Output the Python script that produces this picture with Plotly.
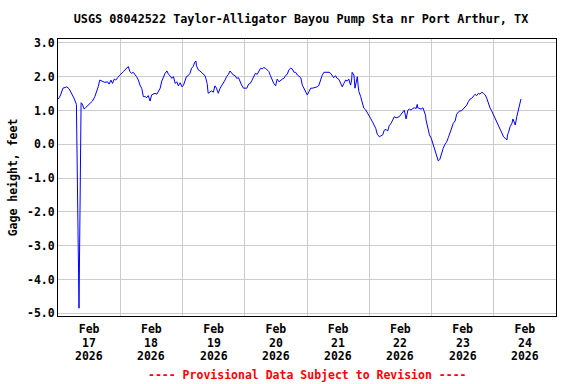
import datetime as dt
import plotly.graph_objects as go

# Hours after 2026-02-17 00:00 and gage height (ft)
hours = [0.15, 1.0, 1.9, 3.4, 4.3, 5.3, 6.2, 7.1, 7.4, 7.8, 8.1, 8.5, 8.9, 9.4, 10.1, 10.7, 11.6, 12.4, 13.3,
         14.2, 14.9, 15.5, 16.1, 17.2, 18.1, 19.1, 19.7, 20.4, 21.0, 21.7, 22.3, 23.0, 23.6, 25.2, 25.8, 26.5,
         27.1, 27.7, 28.4, 29.0, 29.7, 30.3, 31.0, 31.6, 32.3, 32.9, 33.6, 34.2, 34.8, 35.5, 36.1, 36.8, 37.4,
         38.1, 38.7, 39.4, 40.0, 40.6, 41.3, 42.0, 42.6, 43.2, 43.9, 44.5, 45.2, 45.8, 46.4, 47.1, 47.8, 48.4,
         49.5, 50.2, 50.9, 51.5, 52.1, 52.8, 53.2, 53.4, 54.1, 54.7, 55.3, 56.0, 56.7, 57.0, 57.5, 57.9, 58.6,
         59.2, 59.9, 60.5, 61.1, 61.8, 62.5, 63.1, 63.7, 64.4, 65.0, 65.7, 66.3, 67.0, 67.6, 68.3, 68.9, 69.6,
         70.2, 70.8, 71.5, 72.2, 72.8, 73.5, 74.1, 74.7, 75.5, 76.1, 76.8, 77.4, 78.1, 78.7, 79.3, 80.0, 80.7,
         81.3, 81.9, 82.6, 83.2, 83.9, 84.5, 85.2, 85.8, 86.5, 87.1, 87.7, 88.4, 89.0, 89.7, 90.3, 91.0, 91.6,
         92.3, 92.9, 93.6, 94.2, 94.8, 95.5, 96.1, 96.8, 97.4, 98.1, 98.7, 99.4, 100.0, 100.6, 101.2, 101.8,
         102.5, 103.2, 104.0, 104.5, 105.1, 105.7, 106.3, 107.0, 107.6, 108.3, 108.9, 109.6, 110.2, 110.9,
         111.5, 112.1, 112.8, 113.2, 113.4, 114.1, 114.5, 115.0, 115.4, 115.7, 116.0, 116.7, 117.3, 117.9,
         118.6, 119.2, 119.9, 120.5, 121.2, 121.8, 122.5, 123.1, 123.9, 124.5, 125.2, 125.8, 126.5, 127.1,
         127.7, 128.4, 129.1, 129.7, 130.3, 131.0, 131.6, 132.3, 132.9, 133.5, 134.2, 134.6, 134.9, 135.5,
         136.1, 136.8, 137.4, 138.1, 138.5, 138.7, 139.4, 140.0, 140.7, 141.3, 141.7, 141.9, 142.6, 143.2,
         143.9, 144.5, 145.2, 145.8, 146.6, 147.2, 147.5, 147.9, 148.5, 149.2, 149.8, 150.5, 151.1, 151.7,
         152.4, 153.1, 153.7, 154.3, 155.0, 155.6, 156.3, 156.9, 157.6, 158.2, 158.9, 159.5, 160.2, 160.8,
         161.4, 162.1, 162.7, 163.4, 164.0, 164.7, 165.3, 166.0, 166.6, 167.2, 167.9, 168.5, 169.2, 169.8,
         170.5, 171.1, 171.8, 172.4, 173.1, 173.3, 173.7, 174.3, 175.0, 175.4, 175.9, 176.3, 176.9, 177.6,
         178.0, 178.5]
gage_ft = [1.34, 1.46, 1.66, 1.70, 1.64, 1.51, 1.36, 1.18, -0.45, -3.4, -4.85, -1.8, 1.23, 1.19, 1.04, 1.09, 1.16,
           1.21, 1.28, 1.41, 1.56, 1.70, 1.90, 1.87, 1.83, 1.85, 1.78, 1.90, 1.80, 1.93, 1.90, 1.97, 2.03, 2.15,
           2.20, 2.27, 2.30, 2.15, 2.10, 2.13, 2.07, 2.00, 1.90, 1.75, 1.65, 1.41, 1.41, 1.38, 1.44, 1.28, 1.46,
           1.48, 1.51, 1.48, 1.56, 1.66, 1.87, 2.00, 2.10, 2.17, 2.07, 2.03, 1.95, 2.00, 1.80, 1.85, 1.73, 1.82,
           1.70, 1.75, 2.00, 2.03, 2.10, 2.25, 2.30, 2.44, 2.46, 2.32, 2.20, 2.17, 2.13, 2.07, 2.03, 1.95, 1.80,
           1.51, 1.54, 1.58, 1.54, 1.73, 1.66, 1.51, 1.66, 1.73, 1.80, 1.90, 2.00, 2.07, 2.17, 2.10, 2.05, 2.03,
           1.95, 1.97, 1.85, 1.75, 1.66, 1.66, 1.66, 1.78, 1.80, 1.88, 2.03, 2.10, 2.07, 2.17, 2.25, 2.23, 2.27,
           2.25, 2.20, 2.15, 2.03, 1.90, 1.80, 1.73, 1.93, 1.85, 1.90, 1.93, 1.95, 2.03, 2.07, 2.20, 2.25, 2.23,
           2.13, 2.13, 2.05, 2.00, 1.97, 1.75, 1.66, 1.51, 1.46, 1.56, 1.66, 1.66, 1.68, 1.68, 1.70, 1.75, 1.90,
           2.03, 2.13, 2.13, 2.13, 2.13, 2.10, 2.03, 1.97, 2.03, 1.95, 1.92, 1.80, 1.70, 1.80, 1.90, 1.87, 1.93,
           1.75, 1.90, 2.13, 2.05, 1.66, 1.85, 2.00, 1.75, 1.56, 1.41, 1.26, 1.07, 1.02, 0.95, 0.87, 0.77, 0.67,
           0.57, 0.47, 0.30, 0.22, 0.25, 0.28, 0.42, 0.44, 0.39, 0.55, 0.62, 0.72, 0.82, 0.78, 0.80, 0.82, 0.89,
           0.96, 1.01, 0.75, 0.92, 1.01, 1.04, 1.01, 1.06, 1.08, 1.06, 1.18, 1.08, 1.06, 1.04, 1.08, 0.96, 0.86,
           0.72, 0.52, 0.28, 0.18, 0.03, -0.17, -0.32, -0.49, -0.45, -0.37, -0.30, -0.12, 0.00, 0.06, 0.20, 0.33,
           0.47, 0.62, 0.69, 0.89, 0.95, 0.99, 0.99, 1.04, 1.08, 1.16, 1.26, 1.34, 1.36, 1.44, 1.48, 1.44, 1.51,
           1.48, 1.54, 1.51, 1.46, 1.36, 1.16, 1.07, 0.99, 0.87, 0.77, 0.69, 0.57, 0.47, 0.33, 0.22, 0.18, 0.13,
           0.28, 0.35, 0.52, 0.62, 0.75, 0.67, 0.57, 0.82, 1.07, 1.26, 1.34]

month_label = "Feb"
day_labels = ["17", "18", "19", "20", "21", "22", "23", "24"]
year_label = "2026"
y_ticks = [3.0, 2.0, 1.0, 0.0, -1.0, -2.0, -3.0, -4.0, -5.0]
y_ticktext = ["3.0", "2.0", "1.0", "0.0", "-1.0", "-2.0", "-3.0", "-4.0", "-5.0"]

start = dt.datetime(2026, 2, 17)
times = [start + dt.timedelta(hours=h) for h in hours]
tick_noons = [dt.datetime(2026, 2, int(d), 12) for d in day_labels]

FONT = "DejaVu Sans Mono"
FS = 11.5
PLOT_H = 384 - 39 - 68

fig = go.Figure()
fig.add_trace(go.Scatter(x=times, y=gage_ft, mode="lines",
                         line=dict(color="#0000ff", width=1), showlegend=False,
                         hoverinfo="skip"))

annotations = []
for xv, d in zip(tick_noons, day_labels):
    for row, txt in ((343, d), (356, year_label)):
        annotations.append(dict(text="<b>%s</b>" % txt, xref="x", yref="paper", x=xv,
                                y=(316 - row) / PLOT_H, xanchor="center", yanchor="middle",
                                showarrow=False, font=dict(family=FONT, size=FS, color="black")))
annotations.append(dict(text="<b>---- Provisional Data Subject to Revision ----</b>",
                        xref="paper", yref="paper", x=0.5, y=(316 - 375) / PLOT_H,
                        xanchor="center", yanchor="middle", showarrow=False,
                        font=dict(family=FONT, size=FS, color="#ff0000")))

fig.update_layout(
    width=576, height=384,
    margin=dict(l=58, r=20, t=39, b=68, autoexpand=False),
    paper_bgcolor="white", plot_bgcolor="white",
    font=dict(family=FONT, size=12, color="black"),
    title=dict(text="<b>USGS 08042522 Taylor-Alligator Bayou Pump Sta nr Port Arthur, TX</b>",
               xref="container", x=301 / 576, xanchor="center", yref="container",
               y=1 - 19 / 384, yanchor="middle", automargin=False,
               font=dict(family=FONT, size=11.8, color="black")),
    xaxis=dict(
        automargin=False,
        range=[start, start + dt.timedelta(days=8)],
        tickmode="array", tickvals=tick_noons, ticktext=["<b>%s</b>" % month_label] * len(day_labels),
        showgrid=False, ticks="", zeroline=False, ticklabelstandoff=2,
        showline=True, linecolor="black", linewidth=1, mirror=True,
        tickfont=dict(family=FONT, size=FS, color="black"),
        minor=dict(tickmode="linear", tick0=start, dtick=86400000, showgrid=True,
                   gridcolor="#cccccc", gridwidth=1, ticks=""),
    ),
    yaxis=dict(
        automargin=False,
        range=[-5.08, 3.115],
        tickmode="array", tickvals=y_ticks, ticktext=["<b>%s</b>" % t for t in y_ticktext],
        showgrid=True, gridcolor="#cccccc", gridwidth=1, zeroline=False, ticks="",
        showline=True, linecolor="black", linewidth=1, mirror=True,
        tickfont=dict(family=FONT, size=FS, color="black"),
        title=dict(text="<b>Gage height, feet</b>", standoff=6,
                   font=dict(family=FONT, size=FS, color="black")),
    ),
    annotations=annotations,
)

fig.write_html("out.html", config={"displayModeBar": False},
               post_script="document.body.style.margin='0';document.body.style.overflow='hidden';")
